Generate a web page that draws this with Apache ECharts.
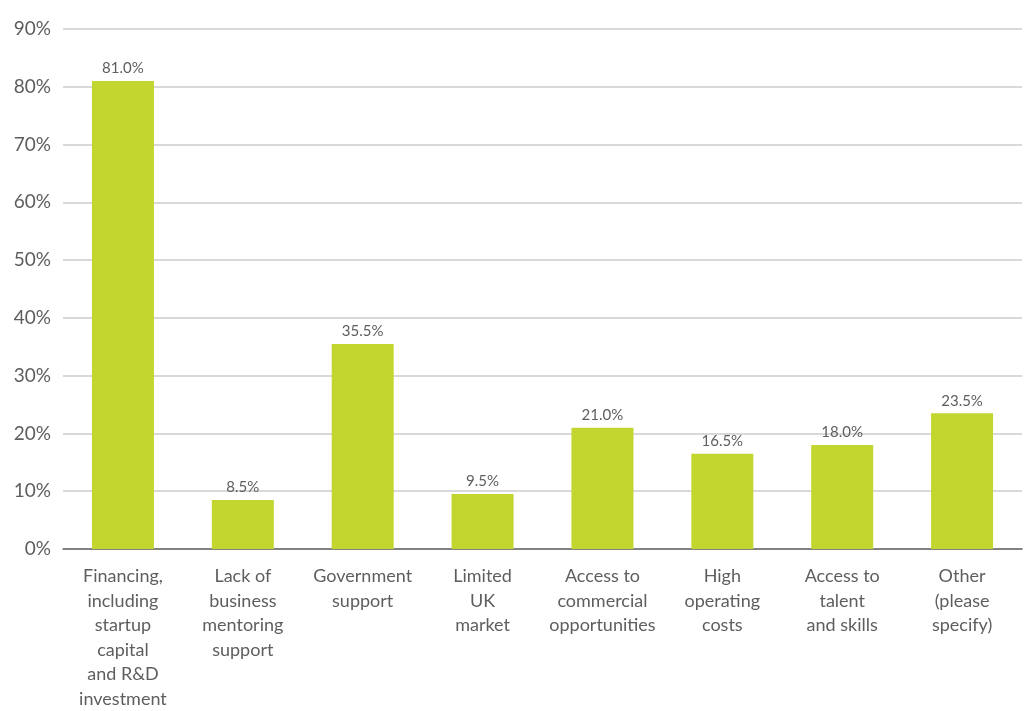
<!DOCTYPE html>
<html>
<head>
<meta charset="utf-8">
<script src="https://cdn.jsdelivr.net/npm/echarts@6/dist/echarts.min.js"></script>
<style>
  html, body { margin: 0; padding: 0; background: #fff; }
  #chart { width: 1024px; height: 711px; }
</style>
</head>
<body>
<div id="chart"></div>
<script>
// Barriers reported by respondents (share of responses, %)
const categories = [
  'Financing,\nincluding\nstartup\ncapital\nand R&D\ninvestment',
  'Lack of\nbusiness\nmentoring\nsupport',
  'Government\nsupport',
  'Limited\nUK\nmarket',
  'Access to\ncommercial\nopportunities',
  'High\noperating\ncosts',
  'Access to\ntalent\nand skills',
  'Other\n(please\nspecify)'
];
const shares = [81.0, 8.5, 35.5, 9.5, 21.0, 16.5, 18.0, 23.5];
const yTicks = { min: 0, max: 90, interval: 10 };

const fontFamily = 'Lato, "Open Sans", "Noto Sans", sans-serif';
const textColor = '#5e5e5e';

const chart = echarts.init(document.getElementById('chart'), null, { renderer: 'canvas' });
chart.setOption({
  animation: false,
  grid: { left: 63, right: 2, top: 29, bottom: 158, containLabel: false },
  xAxis: {
    type: 'category',
    data: categories,
    axisTick: { show: false },
    axisLine: { lineStyle: { color: '#666', width: 1.5 } },
    axisLabel: {
      interval: 0,
      margin: 15,
      color: textColor,
      fontFamily: fontFamily,
      fontSize: 18,
      lineHeight: 24.5
    }
  },
  yAxis: {
    type: 'value',
    min: yTicks.min,
    max: yTicks.max,
    interval: yTicks.interval,
    axisLine: { show: false },
    axisTick: { show: false },
    splitLine: { lineStyle: { color: '#cccccc', width: 1.5 } },
    axisLabel: {
      formatter: '{value}%',
      margin: 12,
      color: textColor,
      fontFamily: fontFamily,
      fontSize: 19
    }
  },
  series: [{
    type: 'bar',
    data: shares,
    barWidth: 62,
    itemStyle: { color: '#c2d62f' },
    label: {
      show: true,
      position: 'top',
      distance: 5,
      formatter: p => p.value.toFixed(1) + '%',
      color: textColor,
      fontFamily: fontFamily,
      fontSize: 15
    }
  }]
});
</script>
</body>
</html>
